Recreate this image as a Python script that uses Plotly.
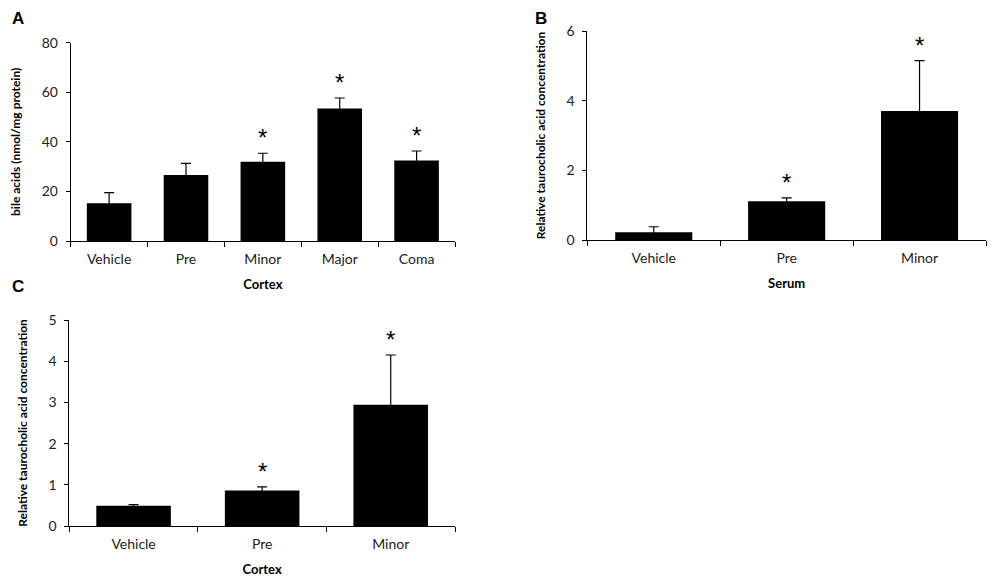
import plotly.graph_objs as go

# Panel A - bile acids in cortex
cats_a = ['Vehicle', 'Pre', 'Minor', 'Major', 'Coma']
mean_a = [15.2, 26.6, 32.0, 53.5, 32.5]
err_a = [4.3, 4.7, 3.4, 4.2, 3.8]
sig_a = [False, False, True, True, True]

# Panel B - taurocholic acid in serum
cats_b = ['Vehicle', 'Pre', 'Minor']
mean_b = [0.22, 1.11, 3.70]
err_b = [0.16, 0.10, 1.45]
sig_b = [False, True, True]

# Panel C - taurocholic acid in cortex
cats_c = ['Vehicle', 'Pre', 'Minor']
mean_c = [0.49, 0.86, 2.94]
err_c = [0.03, 0.09, 1.21]
sig_c = [False, True, True]

FONT = 'Lato'

# page body has an 8px margin, so the figure is sized to fit inside the window
OFF = 8
W, H = 1000 - OFF, 586 - OFF


def hx(p0, p1):
    return [(p0 - OFF) / W, (p1 - OFF) / W]


def vy(top, bottom):
    return [1 - (bottom - OFF) / H, 1 - (top - OFF) / H]


def bars(cats, mean, err, ax):
    return go.Bar(x=cats, y=mean, xaxis='x' + ax, yaxis='y' + ax,
                  marker=dict(color='black', line=dict(width=0)),
                  width=0.58, showlegend=False,
                  error_y=dict(type='data', array=err, symmetric=True,
                               color='black', thickness=1.2, width=5))


def stars(cats, mean, err, sig, ax):
    out = []
    for c, m, e, s in zip(cats, mean, err, sig):
        if s:
            out.append(dict(x=c, y=m + e, xref='x' + ax, yref='y' + ax,
                            text='*', showarrow=False, yanchor='bottom',
                            yshift=0, font=dict(size=24, color='black', family='Arial')))
    return out


def xax(domain, anchor, title):
    return dict(domain=domain, anchor=anchor, showline=True, linecolor='black',
                linewidth=1, ticks='outside', ticklen=5, tickcolor='black',
                tickson='boundaries', showgrid=False, zeroline=False,
                automargin=False, ticklabelstandoff=5,
                tickfont=dict(size=14, color='#222', family=FONT),
                title=dict(text='<b>' + title + '</b>', standoff=14,
                           font=dict(size=13, color='black', family=FONT)))


def yax(domain, anchor, rng, dtick, title):
    return dict(domain=domain, anchor=anchor, range=rng, dtick=dtick,
                showline=True, linecolor='black', linewidth=1,
                ticks='outside', ticklen=4, tickcolor='black',
                showgrid=False, zeroline=False, automargin=False,
                ticklabelstandoff=5,
                tickfont=dict(size=14, color='#222', family=FONT),
                title=dict(text='<b>' + title + '</b>', standoff=18,
                           font=dict(size=12, color='black', family=FONT)))


data = [bars(cats_a, mean_a, err_a, ''),
        bars(cats_b, mean_b, err_b, '2'),
        bars(cats_c, mean_c, err_c, '3')]

annotations = (stars(cats_a, mean_a, err_a, sig_a, '')
               + stars(cats_b, mean_b, err_b, sig_b, '2')
               + stars(cats_c, mean_c, err_c, sig_c, '3'))

for lbl, px, py in [('A', 11, 8), ('B', 534, 8), ('C', 11, 276)]:
    annotations.append(dict(text='<b>' + lbl + '</b>', x=(px - OFF) / W, y=1 - (py - OFF) / H,
                            xref='paper', yref='paper', borderpad=0,
                            xanchor='left', yanchor='top', showarrow=False,
                            font=dict(size=17, color='black', family='Arial')))

layout = go.Layout(
    width=W, height=H,
    margin=dict(l=0, r=0, t=0, b=0),
    paper_bgcolor='white', plot_bgcolor='white',
    xaxis=xax(hx(70.7, 455), 'y', 'Cortex'),
    yaxis=yax(vy(42.7, 241), 'x', [0, 80], 20, 'bile acids (nmol/mg protein)'),
    xaxis2=xax(hx(587.3, 986), 'y2', 'Serum'),
    yaxis2=yax(vy(31, 240), 'x2', [0, 6], 2, 'Relative taurocholic acid concentration'),
    xaxis3=xax(hx(69.3, 455), 'y3', 'Cortex'),
    yaxis3=yax(vy(320, 526), 'x3', [0, 5], 1, 'Relative taurocholic acid concentration'),
    annotations=annotations,
)

fig = go.Figure(data=data, layout=layout)
fig.write_html('out.html')
